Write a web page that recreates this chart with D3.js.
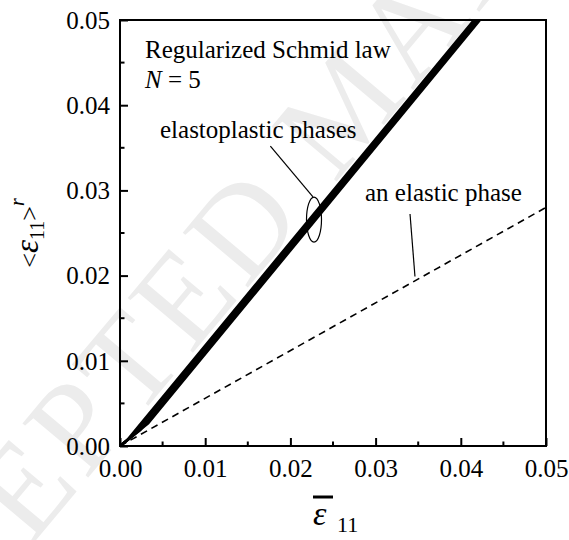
<!DOCTYPE html>
<html lang="en">
<head>
<meta charset="utf-8"/>
<title>Regularized Schmid law</title>
<script src="https://d3js.org/d3.v7.min.js"></script>
<style>
  body { margin: 0; background: #fff; }
  svg text { font-family: "Liberation Serif", "Times New Roman", serif; fill: #000; }
  .frame { fill: none; stroke: #000; stroke-width: 2px; }
  .tick line { stroke: #000; stroke-width: 2px; }
</style>
</head>
<body>
<div id="chart"></div>
<script>
// ---- data ----
var xTicks = [0, 0.01, 0.02, 0.03, 0.04, 0.05];
var yTicks = [0, 0.01, 0.02, 0.03, 0.04, 0.05];
var minorTicks = [0.005, 0.015, 0.025, 0.035, 0.045];

// the elastic phase (dashed)
var elasticX = [0, 0.05];
var elasticY = [0, 0.028];

// the four elastoplastic phases (drawn as a thick band)
var plasticX = [
  [0, 0.0008, 0.04155],
  [0, 0.0016, 0.04178],
  [0, 0.0024, 0.04202],
  [0, 0.0033, 0.04225]
];
var plasticY = [
  [0, 0.00065, 0.05],
  [0, 0.0013, 0.05],
  [0, 0.0019, 0.05],
  [0, 0.00265, 0.05]
];

// annotations, in data units
var titleLines = ["Regularized Schmid law"];
var plasticLabel = "elastoplastic phases";
var elasticLabel = "an elastic phase";
var ellipseAt = [0.02277, 0.02658];
var ellipseR = [0.00088, 0.00264];
var plasticLeader = [[0.01765, 0.03521], [0.02265, 0.02923]];
var elasticLeader = [[0.03404, 0.02723], [0.03462, 0.01990]];

// ---- layout ----
var W = 569, H = 540;
var m = {left: 120, top: 20, right: 23, bottom: 94};
var w = W - m.left - m.right, h = H - m.top - m.bottom;
var fs = 25;

var svg = d3.select("#chart").append("svg")
  .attr("width", W).attr("height", H);

// faint watermark behind everything
svg.append("text")
  .attr("transform", "translate(-153,765) rotate(-50)")
  .attr("font-size", 130)
  .attr("letter-spacing", 6)
  .style("fill", "#ececec")
  .text("ACCEPTED MANUSCRIPT");

var x = d3.scaleLinear().domain([0, 0.05]).range([0, w]);
var y = d3.scaleLinear().domain([0, 0.05]).range([h, 0]);

var g = svg.append("g").attr("transform", "translate(" + m.left + "," + m.top + ")");

g.append("clipPath").attr("id", "clip")
  .append("rect").attr("width", w).attr("height", h);

var fmt = d3.format(".2f");

// axes with inward ticks
var xAxis = g.append("g").attr("transform", "translate(0," + h + ")")
  .call(d3.axisBottom(x).tickValues(xTicks).tickSize(-8).tickPadding(13).tickFormat(fmt));
xAxis.append("g").selectAll("line").data(minorTicks).enter().append("line")
  .attr("x1", x).attr("x2", x).attr("y1", 0).attr("y2", -4.5)
  .attr("stroke", "#000").attr("stroke-width", 2);

var yAxis = g.append("g")
  .call(d3.axisLeft(y).tickValues(yTicks).tickSize(-8).tickPadding(10).tickFormat(fmt));
yAxis.append("g").selectAll("line").data(minorTicks).enter().append("line")
  .attr("y1", y).attr("y2", y).attr("x1", 0).attr("x2", 4.5)
  .attr("stroke", "#000").attr("stroke-width", 2);

[xAxis, yAxis].forEach(function(a) {
  a.select(".domain").remove();
  a.selectAll(".tick text").attr("font-size", fs);
});
xAxis.selectAll(".tick text").attr("dy", "0.71em");
yAxis.selectAll(".tick text").attr("dy", "0.33em");

g.append("rect").attr("class", "frame").attr("width", w).attr("height", h);

var line = d3.line().x(function(d) { return x(d[0]); }).y(function(d) { return y(d[1]); });
var zip = function(xs, ys) { return xs.map(function(v, i) { return [v, ys[i]]; }); };

var plot = g.append("g").attr("clip-path", "url(#clip)");

plot.append("path")
  .attr("d", line(zip(elasticX, elasticY)))
  .attr("fill", "none").attr("stroke", "#000")
  .attr("stroke-width", 1.6).attr("stroke-dasharray", "7,5");

plot.selectAll(".phase").data(plasticX).enter().append("path")
  .attr("class", "phase")
  .attr("d", function(d, i) { return line(zip(d, plasticY[i])); })
  .attr("fill", "none").attr("stroke", "#000").attr("stroke-width", 2.6);

// annotations
g.append("text").attr("x", 25).attr("y", 38).attr("font-size", fs).text(titleLines[0]);
var nLine = g.append("text").attr("x", 25).attr("y", 68).attr("font-size", fs);
nLine.append("tspan").attr("font-style", "italic").text("N");
nLine.append("tspan").text(" = 5");

g.append("text").attr("x", 40).attr("y", 118).attr("font-size", fs).text(plasticLabel);
g.append("text").attr("x", 245).attr("y", 181).attr("font-size", fs).text(elasticLabel);

g.append("line")
  .attr("x1", x(plasticLeader[0][0])).attr("y1", y(plasticLeader[0][1]))
  .attr("x2", x(plasticLeader[1][0])).attr("y2", y(plasticLeader[1][1]))
  .attr("stroke", "#000").attr("stroke-width", 1.2);
g.append("line")
  .attr("x1", x(elasticLeader[0][0])).attr("y1", y(elasticLeader[0][1]))
  .attr("x2", x(elasticLeader[1][0])).attr("y2", y(elasticLeader[1][1]))
  .attr("stroke", "#000").attr("stroke-width", 1.2);
g.append("ellipse")
  .attr("cx", x(ellipseAt[0])).attr("cy", y(ellipseAt[1]))
  .attr("rx", x(ellipseR[0]) - x(0)).attr("ry", y(0) - y(ellipseR[1]))
  .attr("fill", "none").attr("stroke", "#000").attr("stroke-width", 1.2);

// axis titles
var yl = svg.append("text")
  .attr("transform", "translate(38,233) rotate(-90)")
  .attr("text-anchor", "middle");
yl.append("tspan").attr("font-size", 26).text("<");
yl.append("tspan").attr("font-size", 33).attr("font-style", "italic").text("ε");
yl.append("tspan").attr("font-size", 20).attr("dy", 6).text("11");
yl.append("tspan").attr("font-size", 26).attr("dy", -6).text(">");
yl.append("tspan").attr("font-size", 20).attr("font-style", "italic").attr("dy", -14).text("r");

svg.append("text").attr("x", 313).attr("y", 525)
  .attr("font-size", 34).attr("font-style", "italic").text("ε");
svg.append("line").attr("x1", 313).attr("x2", 333).attr("y1", 497).attr("y2", 497)
  .attr("stroke", "#000").attr("stroke-width", 3);
svg.append("text").attr("x", 337).attr("y", 532).attr("font-size", 22).text("11");
</script>
</body>
</html>
